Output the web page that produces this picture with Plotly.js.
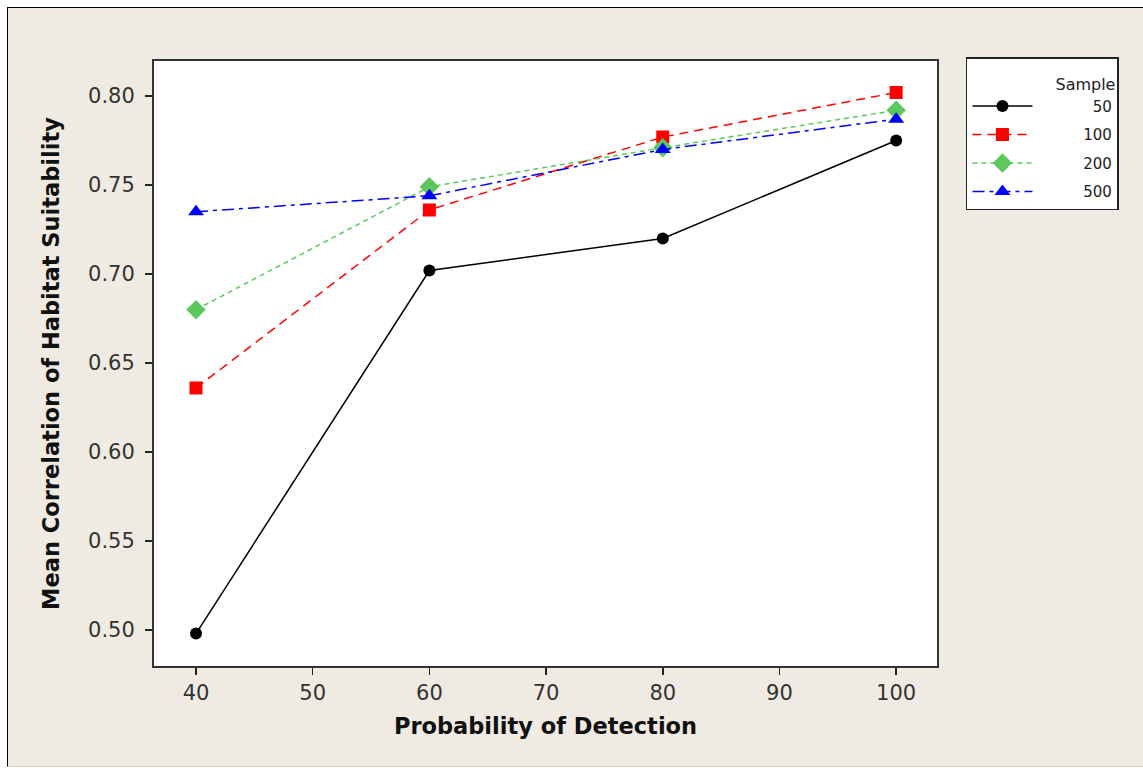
<!DOCTYPE html>
<html>
<head>
<meta charset="utf-8">
<script src="https://cdn.plot.ly/plotly-3.0.1.min.js"></script>
<style>
html, body { margin: 0; padding: 0; background: #ffffff; }
#chart { position: absolute; left: 7px; top: 7px; width: 1136px; height: 758px;
  border-left: 1px solid #000; border-top: 1px solid #000; border-bottom: 1px solid #d8d4cc; background: #F0EBE2; }
</style>
</head>
<body>
<div id="chart"></div>
<script>
const detection = [40, 60, 80, 100];
const sampleLabels = ['50', '100', '200', '500'];
const s50  = [0.498, 0.702, 0.720, 0.775];
const s100 = [0.636, 0.736, 0.777, 0.802];
const s200 = [0.680, 0.749, 0.771, 0.792];
const s500 = [0.735, 0.744, 0.770, 0.787];
const xTicks = [40, 50, 60, 70, 80, 90, 100];
const yTicks = [0.50, 0.55, 0.60, 0.65, 0.70, 0.75, 0.80];

const series = [s50, s100, s200, s500];
const colors = ['#000000', '#FF0000', '#5CC85C', '#0000FF'];
const symbols = ['circle', 'square', 'diamond', 'triangle-up'];
const dashes = ['solid', '9px,6px', '5px,4px', '12px,5px,4px,5px'];
const sizes = [12, 13, 15, 14];

// pad labels with figure spaces so the numbers sit right-aligned like the original legend
function padLabel(s) { return '\u2002' + '\u2007'.repeat(7 - s.length) + s; }

const traces = series.map((ys, i) => ({
  x: detection, y: ys, name: padLabel(sampleLabels[i]), type: 'scatter', mode: 'lines+markers',
  legendgroup: 'g' + i,
  line: {color: colors[i], width: 1.5, dash: dashes[i]},
  marker: {color: colors[i], symbol: symbols[i], size: sizes[i]}
}));

const font = 'Tahoma, "DejaVu Sans", Verdana, sans-serif';
const layout = {
  width: 1135, height: 757,
  margin: {l: 146, r: 206, t: 53, b: 99, pad: 0},
  paper_bgcolor: '#F0EBE2', plot_bgcolor: '#ffffff',
  font: {family: font, color: '#222', size: 21},
  xaxis: {
    range: [36.4, 103.5], tickvals: xTicks, ticktext: xTicks.map(String),
    ticks: 'outside', ticklen: 7, tickwidth: 1.5, tickcolor: '#222',
    showline: true, linecolor: '#333', linewidth: 2, mirror: true,
    showgrid: false, zeroline: false, tickfont: {size: 21, color: '#333'},
    title: {text: 'Probability of Detection', font: {size: 22.5, color: '#111', weight: 'bold'}, standoff: 14}
  },
  yaxis: {
    range: [0.4798, 0.8197], tickvals: yTicks, ticktext: yTicks.map(v => v.toFixed(2)),
    ticks: 'outside', ticklen: 7, tickwidth: 1.5, tickcolor: '#222', ticklabelstandoff: 6,
    showline: true, linecolor: '#333', linewidth: 2, mirror: true,
    showgrid: false, zeroline: false, tickfont: {size: 21, color: '#333'},
    title: {text: 'Mean Correlation of Habitat Suitability', font: {size: 22.5, color: '#111', weight: 'bold'}, standoff: 22}
  },
  showlegend: true,
  legend: {
    x: 1.037, y: 1.0066, xanchor: 'left', yanchor: 'top',
    bgcolor: '#ffffff', bordercolor: '#222', borderwidth: 1.5,
    font: {size: 15, color: '#222'}, itemwidth: 60,
    title: {text: '<span style="font-size:16px">Sample</span>', side: 'top right', font: {size: 24, color: '#222'}},
    traceorder: 'grouped', tracegroupgap: 6
  }
};

Plotly.newPlot('chart', traces, layout, {displayModeBar: false, staticPlot: true});
</script>
</body>
</html>
